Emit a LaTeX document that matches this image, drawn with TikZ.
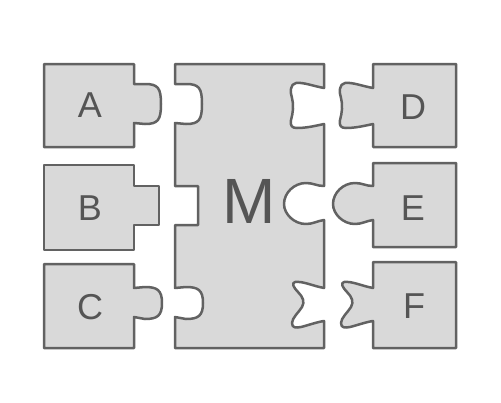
\documentclass[tikz,border=0pt]{standalone}
\usepackage{fontspec}
\setmainfont{Liberation Sans}
\definecolor{piecefill}{HTML}{D9D9D9}
\definecolor{piecedraw}{HTML}{626262}
\definecolor{labelcol}{HTML}{555555}
\begin{document}
\begin{tikzpicture}[x=1pt,y=-1pt,
  piece/.style={fill=piecefill,draw=piecedraw,line width=2.5pt,line join=round},
  lbl/.style={text=labelcol,inner sep=0pt,font=\fontsize{36}{40}\selectfont},
  biglbl/.style={text=labelcol,inner sep=0pt,font=\fontsize{64}{70}\selectfont}]
\useasboundingbox (0,0) rectangle (501,402);
% M
\path[piece] (175,64) -- (324,64) -- (324,88)
  .. controls (313,86) and (303,82) .. (296,83)
  .. controls (290,84) and (290,92) .. (292,98)
  .. controls (294,105) and (293,113) .. (291,120)
  .. controls (290,126) and (292,128) .. (297,128)
  .. controls (306,128) and (315,126) .. (324,124)
  -- (324,186)
  .. controls (317,186) and (313,183) .. (306,183)
  .. controls (294,183) and (284,193) .. (284,204)
  .. controls (284,214) and (294,224) .. (306,224)
  .. controls (313,224) and (317,221) .. (324,220)
  -- (324,288)
  .. controls (313,286) and (303,281) .. (295,282)
  .. controls (291,283) and (294,288) .. (298,292)
  .. controls (303,297) and (305,302) .. (302,307)
  .. controls (299,312) and (292,318) .. (292,323)
  .. controls (292,328) and (296,328) .. (301,327)
  .. controls (309,325) and (317,322) .. (324,321)
  -- (324,348) -- (175,348) -- (175,317)
  -- (186,319) .. controls (198,319) and (203,316) .. (203,303)
  .. controls (203,290) and (198,287) .. (186,287) -- (175,288)
  -- (175,225) -- (198,225) -- (198,186) -- (175,186)
  -- (175,123) -- (186,124)
  .. controls (199,124) and (202,120) .. (202,104)
  .. controls (202,88) and (199,84) .. (186,84) -- (175,84) -- cycle;
% A
\path[piece] (44,64) -- (134,64) -- (134,84) -- (145,84)
  .. controls (158,84) and (161,88) .. (161,104)
  .. controls (161,120) and (158,124) .. (145,124) -- (134,123)
  -- (134,147) -- (44,147) -- cycle;
% B
\path[piece] (44,165) -- (134,165) -- (134,186) -- (159,186) -- (159,225)
  -- (134,225) -- (134,250) -- (44,250) -- cycle;
% C
\path[piece] (44,264) -- (134,264) -- (134,288) -- (145,287)
  .. controls (157,287) and (162,290) .. (162,303)
  .. controls (162,316) and (157,319) .. (145,319) -- (134,317)
  -- (134,348) -- (44,348) -- cycle;
% D
\path[piece] (373,64) -- (456,64) -- (456,147) -- (373,147) -- (373,124)
  .. controls (364,126) and (355,128) .. (346,128)
  .. controls (341,128) and (339,126) .. (340,120)
  .. controls (342,113) and (343,105) .. (341,98)
  .. controls (339,92) and (339,84) .. (345,83)
  .. controls (352,82) and (362,86) .. (373,88) -- cycle;
% E
\path[piece] (373,163) -- (456,163) -- (456,247) -- (373,247) -- (373,220)
  .. controls (366,221) and (362,224) .. (355,224)
  .. controls (343,224) and (333,214) .. (333,204)
  .. controls (333,193) and (343,183) .. (355,183)
  .. controls (362,183) and (366,186) .. (373,186) -- cycle;
% F
\path[piece] (373,262) -- (456,262) -- (456,348) -- (373,348) -- (373,321)
  .. controls (366,322) and (358,325) .. (350,327)
  .. controls (345,328) and (341,328) .. (341,323)
  .. controls (341,318) and (348,312) .. (351,307)
  .. controls (354,302) and (352,297) .. (347,292)
  .. controls (343,288) and (340,283) .. (344,282)
  .. controls (352,281) and (362,286) .. (373,288) -- cycle;
% labels
\node[lbl] (la) at (90,105) {A};
\node[lbl] (lb) at (90,208) {B};
\node[lbl] (lc) at (90,307) {C};
\node[lbl] (ld) at (413,107) {D};
\node[lbl] (le) at (413,208) {E};
\node[lbl] (lf) at (414,306) {F};
\node[biglbl] (lm) at (249,201) {M};
\end{tikzpicture}
\end{document}
